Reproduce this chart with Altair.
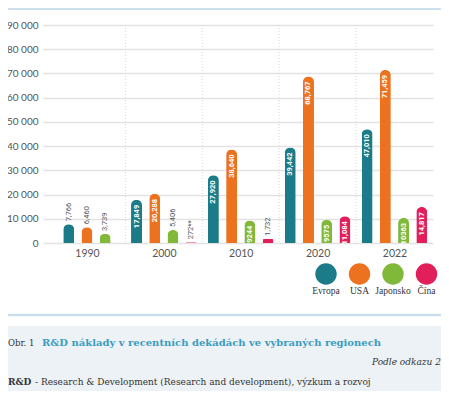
import json
import pandas as pd
import altair as alt

# R&D costs by decade and region
decades = ["1990", "2000", "2010", "2020", "2022"]
regions = ["Evropa", "USA", "Japonsko", "Čína"]
colors = ["#1b7b88", "#ec7220", "#80b83a", "#e11f5a"]

evropa = [7766, 17849, 27920, 39442, 47010]
usa = [6460, 20288, 38640, 68767, 71459]
japonsko = [3739, 5406, 9244, 9575, 10363]
cina = [None, 272, 1732, 11084, 14817]

evropa_lbl = ["7,766", "17,849", "27,920", "39,442", "47,010"]
usa_lbl = ["6,460", "20,288", "38,640", "68,767", "71,459"]
japonsko_lbl = ["3,739", "5,406", "9244", "9575", "10363"]
cina_lbl = [None, "272**", "1,732", "11,084", "14,817"]

y_ticks = list(range(0, 90001, 10000))

series = [evropa, usa, japonsko, cina]
series_lbl = [evropa_lbl, usa_lbl, japonsko_lbl, cina_lbl]

# bars of a group are centred on the decade; missing values leave no gap
step = 0.237
rows = []
for d, dec in enumerate(decades):
    present = [i for i in range(len(regions)) if series[i][d] is not None]
    n = len(present)
    for k, i in enumerate(present):
        rows.append({
            "decade": dec,
            "region": regions[i],
            "pos": d + (k - (n - 1) / 2) * step,
            "value": series[i][d],
            "label": series_lbl[i][d],
            "inside": series[i][d] >= 9000,
        })
df = pd.DataFrame(rows)

W, H = 390, 218
xscale = alt.Scale(domain=[-0.507, 4.436], nice=False, zero=False)
yscale = alt.Scale(domain=[0, 90000], nice=False)
cscale = alt.Scale(domain=regions, range=colors)

x_axis = alt.Axis(
    values=list(range(len(decades))),
    labelExpr=json.dumps(decades) + "[datum.value]",
    grid=False, ticks=False, domain=False, title=None,
    labelPadding=5, labelFont="Lato", labelFontSize=10.5, labelColor="#555")
y_axis = alt.Axis(
    values=y_ticks, tickCount=10, labelOverlap=False,
    labelExpr="replace(format(datum.value, ','), ',', ' ')",
    title=None, domain=False, ticks=False, labelPadding=5,
    labelFont="Lato", labelFontSize=10, labelColor="#555",
    gridColor="#e3e3e3", gridWidth=1.5)

X = alt.X("pos:Q", scale=xscale, axis=x_axis)
Y = alt.Y("value:Q", scale=yscale, axis=y_axis)

dividers = alt.Chart(pd.DataFrame({"pos": [i + 0.5 for i in range(len(decades) - 1)]})).mark_rule(
    color="#d9d9d9", strokeDash=[1, 2], strokeWidth=1
).encode(x=X)

bars = alt.Chart(df).mark_bar(
    width=11, cornerRadiusTopLeft=5.5, cornerRadiusTopRight=5.5
).encode(
    x=X, y=Y,
    color=alt.Color("region:N", scale=cscale, legend=None),
)

inside = alt.Chart(df).transform_filter("datum.inside").mark_text(
    angle=270, align="right", baseline="middle", dx=-5,
    font="Roboto", fontSize=7.5, fontWeight="bold", color="white"
).encode(x=X, y=Y, text="label:N")

outside = alt.Chart(df).transform_filter("!datum.inside").mark_text(
    angle=270, align="left", baseline="middle", dx=3,
    font="Roboto", fontSize=7.5, color="#555"
).encode(x=X, y=Y, text="label:N")


def txt(s, x, y, **kw):
    return alt.Chart(pd.DataFrame({"t": [s]})).mark_text(baseline="middle", **kw).encode(
        x=alt.value(x), y=alt.value(y), text="t:N")


deco = [
    alt.Chart(pd.DataFrame({"a": [0]})).mark_rule(color="#bcd6e4", strokeWidth=1.5).encode(
        x=alt.value(-35), x2=alt.value(398), y=alt.value(-16)),
    alt.Chart(pd.DataFrame({"a": [0]})).mark_rule(color="#c9dde9", strokeWidth=2.5).encode(
        x=alt.value(-35), x2=alt.value(398), y=alt.value(290)),
    alt.Chart(pd.DataFrame({"a": [0]})).mark_rect(color="#edf2f6").encode(
        x=alt.value(-35), x2=alt.value(398), y=alt.value(301), y2=alt.value(367)),
    txt("Obr. 1", -35, 318, align="left", font="DejaVu Serif", fontSize=8.5, color="#333"),
    txt("R&D náklady v recentních dekádách ve vybraných regionech", -1, 318, align="left",
        font="DejaVu Serif", fontSize=10, fontWeight="bold", color="#3a9cc1"),
    txt("Podle odkazu 2", 398, 337, align="right", font="DejaVu Serif", fontSize=9,
        fontStyle="italic", color="#333"),
    txt("R&D", -35, 357, align="left", font="DejaVu Serif", fontSize=9, fontWeight="bold", color="#333"),
    txt("- Research & Development (Research and development), výzkum a rozvoj", -8, 357,
        align="left", font="DejaVu Serif", fontSize=9, color="#333"),
]

for i, (r, c) in enumerate(zip(regions, colors)):
    cx = 283 + i * 33.5
    deco.append(alt.Chart(pd.DataFrame({"a": [0]})).mark_circle(size=460, color=c, opacity=1).encode(
        x=alt.value(cx), y=alt.value(249)))
    deco.append(txt(r, cx, 266, align="center", font="Liberation Serif", fontSize=9.5, color="#333"))

chart = alt.layer(dividers, bars, inside, outside, *deco).properties(
    width=W, height=H,
    padding={"left": 35, "top": 17, "right": 8, "bottom": 148},
    autosize=alt.AutoSizeParams(type="none"),
).configure_view(strokeWidth=0)

chart.save("out.html", embed_options={"renderer": "svg", "actions": False})
